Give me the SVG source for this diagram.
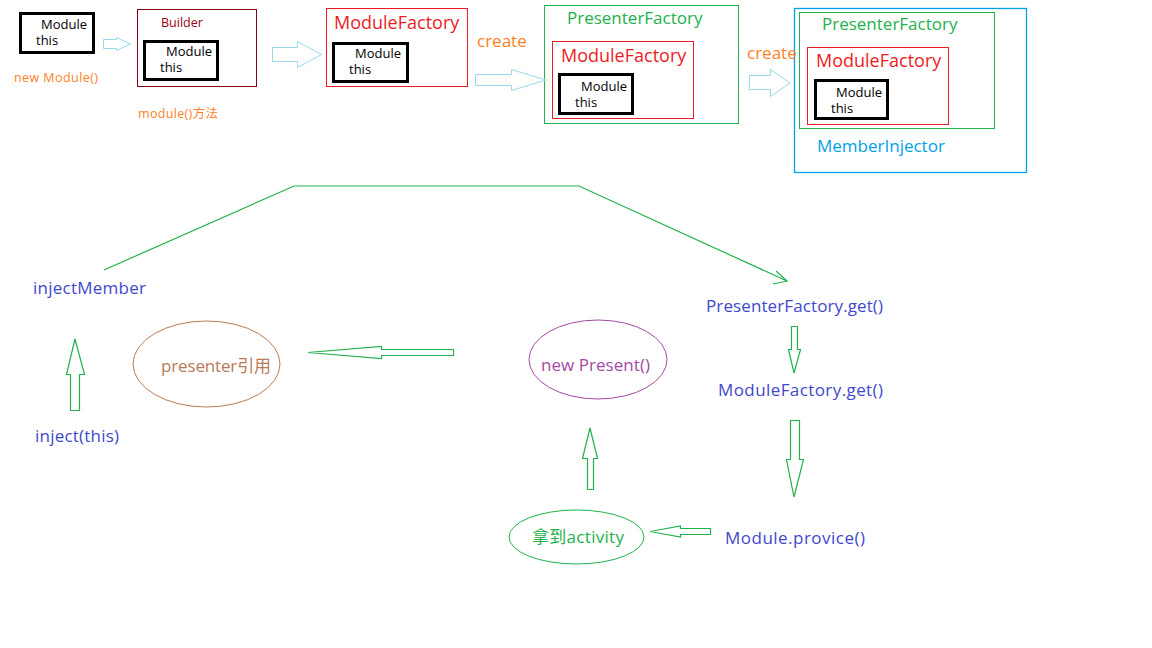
<svg xmlns="http://www.w3.org/2000/svg" width="1152" height="648" viewBox="0 0 1152 648">
<style>
text{font-family:"Open Sans","Noto Sans CJK SC",sans-serif}
.mb{fill:none;stroke:#000;stroke-width:3}
.mt{font-size:13px;fill:#000}
.red{fill:none;stroke:#ed1c24;stroke-width:1}
.grn{fill:none;stroke:#22b14c;stroke-width:1}
.lb{fill:none;stroke:#99d9ea;stroke-width:1}
.ga{fill:none;stroke:#22b14c;stroke-width:1.2}
.rt{font-size:18px;fill:#ed1c24}
.gt{font-size:17px;fill:#22b14c}
.bt{font-size:17px;fill:#3f48cc}
.ot{fill:#ff7f27}
</style>
<rect width="1152" height="648" fill="#fff"/>

<g id="module1">
<rect class="mb" x="20.5" y="13.5" width="73" height="39"/>
<text class="mt" x="41" y="29" textLength="46">Module</text>
<text class="mt" x="36" y="45">this</text>
<text class="ot" x="14" y="82" font-size="12.5" textLength="84">new Module()</text>
</g>

<g id="builder">
<rect x="137.5" y="9.5" width="119" height="77" fill="none" stroke="#880015"/>
<text x="161" y="27" font-size="12.5" fill="#990012">Builder</text>
<rect class="mb" x="144.5" y="41.5" width="73" height="38"/>
<text class="mt" x="166" y="56" textLength="46">Module</text>
<text class="mt" x="160" y="72">this</text>
<text class="ot" x="138" y="118" font-size="12.5" textLength="80">module()方法</text>
</g>

<g id="moduleFactory">
<rect class="red" x="326.5" y="8.5" width="141" height="78"/>
<text class="rt" x="334" y="29">ModuleFactory</text>
<rect class="mb" x="333.5" y="43.5" width="74" height="38"/>
<text class="mt" x="355" y="58" textLength="46">Module</text>
<text class="mt" x="349" y="74">this</text>
</g>

<g id="presenterFactory">
<rect class="grn" x="544.5" y="5.5" width="194" height="118"/>
<text class="gt" x="567" y="24">PresenterFactory</text>
<rect class="red" x="552.5" y="41.5" width="141" height="77"/>
<text class="rt" x="561" y="62">ModuleFactory</text>
<rect class="mb" x="559.5" y="74.5" width="73" height="39"/>
<text class="mt" x="581" y="91" textLength="46">Module</text>
<text class="mt" x="575" y="107">this</text>
</g>

<g id="memberInjector">
<rect x="794.5" y="8.5" width="232" height="164" fill="none" stroke="#00a2e8" stroke-width="1.3"/>
<rect class="grn" x="799.5" y="12.5" width="195" height="116"/>
<text class="gt" x="822" y="30">PresenterFactory</text>
<rect class="red" x="807.5" y="47.5" width="141" height="77"/>
<text class="rt" x="816" y="67">ModuleFactory</text>
<rect class="mb" x="815.5" y="80.5" width="72" height="38"/>
<text class="mt" x="836" y="97" textLength="46">Module</text>
<text class="mt" x="831" y="113">this</text>
<text x="817" y="152" font-size="17" fill="#00a2e8">MemberInjector</text>
</g>

<g id="labels">
<text class="ot" x="477" y="47" font-size="17">create</text>
<text class="ot" x="747" y="59" font-size="17">create</text>
</g>

<g id="injectMember"><text class="bt" x="33" y="294" textLength="113">injectMember</text></g>
<g id="injectThis"><text class="bt" x="35" y="442" textLength="84">inject(this)</text></g>
<g id="presenterRef">
<ellipse cx="206.5" cy="364" rx="73.5" ry="43" fill="none" stroke="#b97a57"/>
<text x="161" y="372" font-size="17" fill="#b97a57" textLength="110">presenter引用</text>
</g>
<g id="newPresent">
<ellipse cx="598" cy="359.5" rx="69" ry="39.5" fill="none" stroke="#a349a4"/>
<text x="541" y="371" font-size="17" fill="#a349a4" textLength="109">new Present()</text>
</g>
<g id="presenterFactoryGet"><text class="bt" x="706" y="312" textLength="177">PresenterFactory.get()</text></g>
<g id="moduleFactoryGet"><text class="bt" x="718" y="396" textLength="165">ModuleFactory.get()</text></g>
<g id="moduleProvice"><text class="bt" x="725" y="544" textLength="140">Module.provice()</text></g>
<g id="getActivity">
<ellipse cx="576.5" cy="537" rx="67.5" ry="27" fill="none" stroke="#22b14c"/>
<text x="532" y="543" font-size="17" fill="#22b14c" textLength="92">拿到activity</text>
</g>

<g id="connectors">
<polygon class="lb" points="103.5,39.5 116.5,39.5 116.5,37.5 130.5,44 116.5,50.5 116.5,48.5 103.5,48.5"/>
<polygon class="lb" points="272.5,47.5 297.5,47.5 297.5,41.5 321.5,54.5 297.5,67.5 297.5,61.5 272.5,61.5"/>
<polygon class="lb" points="475.5,74.5 511.5,74.5 511.5,69.5 546,80 511.5,90.5 511.5,85.5 475.5,85.5"/>
<polygon class="lb" points="749.5,75.5 770.5,75.5 770.5,69.5 790,83 770.5,96.5 770.5,89.5 749.5,89.5"/>
<polyline points="104,270 294,186 579,186 787,281" fill="none" stroke="#22b14c" stroke-width="1.2"/>
<polyline points="776,271 787,281 773,284" fill="none" stroke="#22b14c" stroke-width="1.2"/>
<polygon class="ga" points="70.5,410.5 79.5,410.5 79.5,374.5 84.5,374.5 75,339 66.5,374.5 70.5,374.5"/>
<polygon class="ga" points="453.5,349.5 381.5,349.5 381.5,346.5 308,352.5 381.5,358.5 381.5,355.5 453.5,355.5"/>
<polygon class="ga" points="791.5,326.5 797.5,326.5 797.5,349.5 800.5,349.5 794,373 788.5,349.5 791.5,349.5"/>
<polygon class="ga" points="790.5,420.5 799.5,420.5 799.5,459.5 803.5,459.5 794,497 786.5,459.5 790.5,459.5"/>
<polygon class="ga" points="587.5,489.5 593.5,489.5 593.5,458.5 597.5,458.5 590,428 582.5,458.5 587.5,458.5"/>
<polygon class="ga" points="710.5,528.5 680.5,528.5 680.5,526 650,531.5 680.5,537 680.5,534.5 710.5,534.5"/>
</g>
</svg>
